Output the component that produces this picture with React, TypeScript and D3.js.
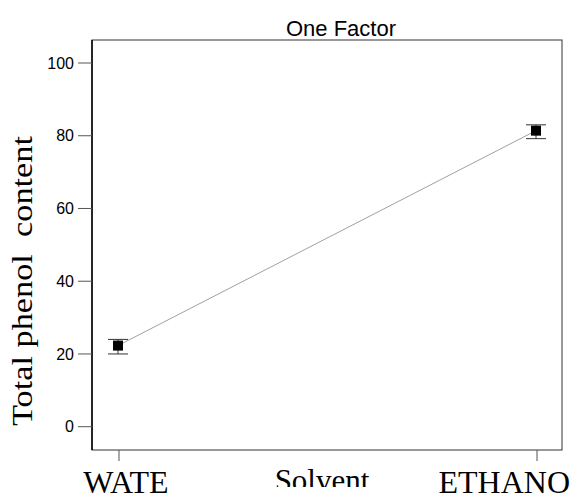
import * as d3 from 'd3';

// values
const solvents = ['WATER', 'ETHANOL'];
const solventLabels = ['WATE', 'ETHANO'];
const means = [22.3, 81.4];
const upper = [24.0, 83.0];
const lower = [20.0, 79.2];
const yTicks = [0, 20, 40, 60, 80, 100];

const width = 574;
const height = 494;
const frame = {left: 92, right: 562, top: 40, bottom: 450};

export default function App() {
  const y = d3.scaleLinear().domain([0, 100]).range([426.7, 63]);
  const x = d3.scalePoint<string>().domain(solvents).range([118, 536]);

  const line = d3.line<number>()
    .x((d, i) => x(solvents[i])!)
    .y(d => y(d));

  const sans = '"Liberation Sans", Arial, sans-serif';
  const serif = '"Liberation Serif", "Times New Roman", serif';

  return (
    <svg width={width} height={height} style={{position: 'absolute', left: 0, top: 0, background: '#fff'}}>
      <defs>
        <clipPath id="solventClip">
          <rect x={0} y={0} width={width} height={487} />
        </clipPath>
      </defs>

      <text x={341} y={36} fontFamily={sans} fontSize={22} textAnchor="middle">One Factor</text>

      {/* frame */}
      <rect x={frame.left} y={frame.top} width={frame.right - frame.left} height={frame.bottom - frame.top}
            fill="none" stroke="#333" strokeWidth={1} />
      <line x1={frame.left} x2={frame.left} y1={frame.top} y2={frame.bottom} stroke="#000" strokeWidth={1.5} />

      {/* y axis */}
      {yTicks.map(t => (
        <g key={t}>
          <line x1={78} x2={frame.left} y1={y(t)} y2={y(t)} stroke="#555" />
          <text x={74} y={y(t)} dy="0.35em" textAnchor="end" fontFamily={sans} fontSize={16}>{t}</text>
        </g>
      ))}

      {/* x axis ticks */}
      {solvents.map(s => (
        <line key={s} x1={x(s)! + 1} x2={x(s)! + 1} y1={frame.bottom} y2={461} stroke="#555" />
      ))}
      <text x={x(solvents[0])! + 8} y={493} textAnchor="middle" fontFamily={serif} fontSize={32}>{solventLabels[0]}</text>
      <text x={570} y={493} textAnchor="end" fontFamily={serif} fontSize={32}>{solventLabels[1]}</text>
      <text x={322} y={491} textAnchor="middle" fontFamily={serif} fontSize={31} clipPath="url(#solventClip)">Solvent</text>

      <text transform={`translate(32, 281) rotate(-90)`} textAnchor="middle" fontFamily={serif} fontSize={29}
            textLength={290} lengthAdjust="spacingAndGlyphs" style={{whiteSpace: 'pre'}}>Total phenol  content</text>

      {/* connecting line */}
      <path d={line(means) || ''} fill="none" stroke="#888" strokeWidth={0.8} />

      {/* error bars and means */}
      {solvents.map((s, i) => {
        const cx = x(s)!;
        return (
          <g key={s}>
            <line x1={cx} x2={cx} y1={y(upper[i])} y2={y(lower[i])} stroke="#333" />
            <line x1={cx - 10} x2={cx + 10} y1={y(upper[i])} y2={y(upper[i])} stroke="#333" />
            <line x1={cx - 10} x2={cx + 10} y1={y(lower[i])} y2={y(lower[i])} stroke="#333" />
            <rect x={cx - 5} y={y(means[i]) - 5} width={10} height={10} fill="#000" />
          </g>
        );
      })}
    </svg>
  );
}
